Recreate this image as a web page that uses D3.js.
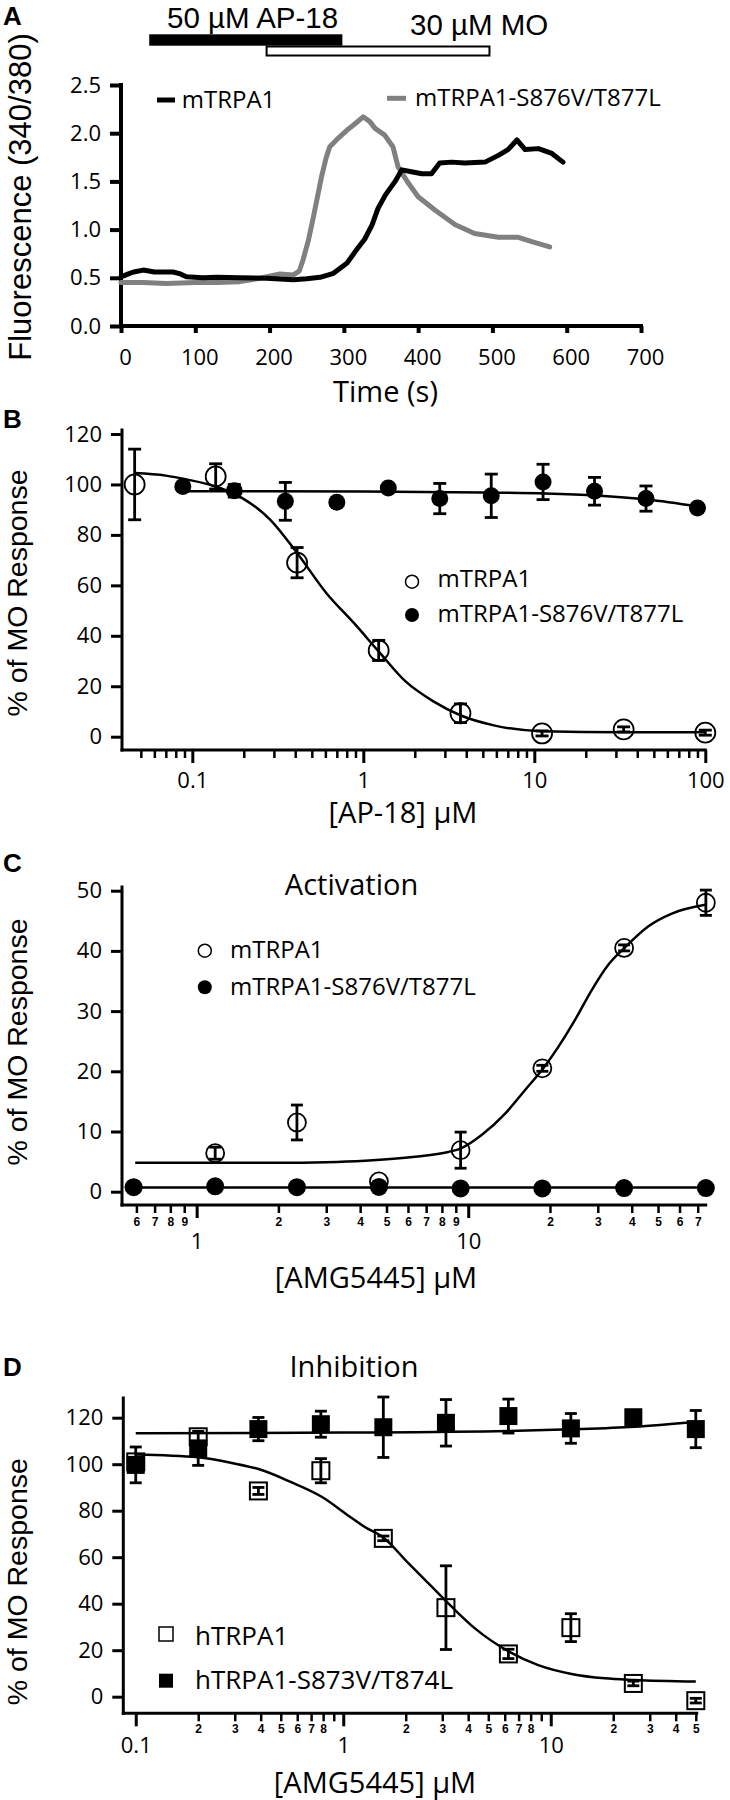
<!DOCTYPE html>
<html lang="en">
<head>
<meta charset="utf-8">
<title>TRPA1 responses to AP-18 and AMG5445</title>
<script src="https://cdn.jsdelivr.net/npm/d3@7"></script>
<style>
  body { margin:0; background:#fff; }
  svg { display:block; background:#fff; font-family:'Open Sans', sans-serif; }
</style>
</head>
<body>
<script>
// ---------- panel A : Fura-2 traces, [time s, ratio]
const traceWT = [[0,0.51],[10,0.54],[17,0.56],[30,0.58],[45,0.56],[70,0.56],[80,0.54],[88,0.51],[110,0.50],[129,0.505],
  [160,0.50],[196,0.495],[232,0.48],[250,0.49],[268,0.505],[286,0.547],[304,0.65],[317,0.79],[328,0.9],[338,1.05],
  [346,1.22],[356,1.36],[369,1.50],[378,1.62],[391,1.60],[405,1.58],[418,1.58],[429,1.69],[445,1.70],[463,1.69],
  [490,1.70],[508,1.77],[521,1.83],[533,1.93],[544,1.83],[562,1.84],[580,1.79],[595,1.70]];
const traceMut = [[0,0.45],[30,0.45],[61,0.44],[100,0.45],[129,0.45],[160,0.46],[187,0.495],[214,0.54],[232,0.53],
  [240,0.57],[245,0.685],[252,0.88],[259,1.13],[265,1.36],[270,1.55],[276,1.74],[281,1.86],[290,1.93],[304,2.03],
  [313,2.085],[326,2.17],[335,2.12],[342,2.05],[355,1.98],[366,1.86],[373,1.65],[387,1.48],[400,1.34],[423,1.20],
  [450,1.05],[476,0.96],[508,0.92],[535,0.92],[553,0.875],[577,0.82]];
const drugNames = ["50 µM AP-18", "30 µM MO"];
const drugStart = [38, 196];
const drugEnd = [298, 496];
const timeTicks = [0,100,200,300,400,500,600,700];
const ratioTicks = [0,0.5,1,1.5,2,2.5];

// ---------- panel B : AP-18 inhibition
const apConcWT = [0.046,0.137,0.41,1.23,3.7,11.1,33.3,100];
const apRespWT = [100,103.2,69,34.2,9.3,1.3,2.9,1.6];
const apErrWT  = [14,5,6,4,3.7,1,1,1];
const apConcMut = [0.088,0.176,0.35,0.7,1.4,2.8,5.6,11.25,22.5,45,90];
const apRespMut = [99.2,97.5,93.3,92.9,98.6,94.4,95.5,101,97.3,94.4,90.7];
const apErrMut  = [0,2.5,7.5,0,0,6,8.6,7,5.5,5,0];
const apFitWT = [[0.046,104.5],[0.07,103.5],[0.0925,102],[0.137,99.2],[0.196,94.6],[0.286,86],[0.41,72.8],
  [0.607,57],[0.883,45],[1.24,33.5],[1.76,22],[2.57,14],[3.69,8.5],[5.8,4.5],[11,2.2],[33,1.8],[100,1.8]];
const apFitMut = [[0.088,97.3],[1,97.2],[5,96.8],[11.5,96.4],[23,95.6],[45.8,94],[91,91.2]];
const apMajor = [0.1,1,10,100];
const apMajorLabels = ["0.1","1","10","100"];
const apMinor = [0.05,0.06,0.07,0.08,0.09,0.2,0.3,0.4,0.5,0.6,0.7,0.8,0.9,2,3,4,5,6,7,8,9,20,30,40,50,60,70,80,90];
const respTicksB = [0,20,40,60,80,100,120];

// ---------- panel C : AMG5445 activation
const amgConcWT = [1.17,2.34,4.69,9.375,18.75,37.5,75];
const amgRespWT = [6.4,11.5,1.7,6.9,20.5,40.5,48.0];
const amgErrWT  = [1,2.9,0,3,0.5,0.5,2.1];
const amgConcMut = [0.586,1.17,2.34,4.69,9.375,18.75,37.5,75];
const amgRespMut = [0.75,0.9,0.75,0.8,0.55,0.55,0.6,0.6];
const actFitWT = [[0.594,4.8],[1,4.8],[2,4.8],[3,4.9],[4.17,5.15],[6.37,5.8],[8.45,6.6],[9.41,7.2],[11.2,9.4],
  [13.7,13],[16.2,16.9],[18.9,20.5],[21.5,24.1],[24.7,28.5],[28.5,33.5],[32.8,37.7],[37.6,40.5],[46.1,44.1],
  [56.2,46.2],[75.5,47.7]];
const actFitMut = [[0.594,0.7],[75.5,0.7]];
const cMajor = [1,10];
const cMajorLabels = ["1","10"];
const cMinor = [0.6,0.7,0.8,0.9,2,3,4,5,6,7,8,9,20,30,40,50,60,70];
const cMinorLabels = ["6","7","8","9","2","3","4","5","6","7","8","9","2","3","4","5","6","7"];
const respTicksC = [0,10,20,30,40,50];

// ---------- panel D : AMG5445 inhibition
const inhConc = [0.1,0.2,0.39,0.78,1.56,3.125,6.25,12.5,25,50];
const inhRespWT = [101,111.8,88.5,97.2,68.1,38.3,18.4,29.7,5.7,-1.7];
const inhErrWT  = [0,0,1.5,5.2,1,18,2,6,1,1];
const inhRespMut = [99.7,106.8,115.1,117.2,115.9,117.8,120.7,115.4,120.2,115.1];
const inhErrMut  = [7.7,7.3,5,5.6,13,10,7.3,6.4,2,8];
const inhFitWT = [[0.1,104.2],[0.2,103],[0.295,100.4],[0.394,97.8],[0.554,92.5],[0.787,86],[1.077,77.4],[1.27,73],
  [1.56,68.5],[2.06,57.4],[2.67,47.3],[3.33,38.7],[4.31,29.4],[6.29,19.4],[8.7,13.6],[12.6,9.8],[18.2,7.9],
  [25.3,7.2],[50,6.5]];
const inhFitMut = [[0.1,113.3],[1,113.6],[6.29,114.3],[12.6,115],[25.3,116.1],[50,118.3]];
const dMajor = [0.1,1,10];
const dMajorLabels = ["0.1","1","10"];
const dMinor = [0.2,0.3,0.4,0.5,0.6,0.7,0.8,0.9,2,3,4,5,6,7,8,9,20,30,40,50];
const dMinorLabels = ["2","3","4","5","6","7","8","","2","3","4","5","6","7","8","","2","3","4","5"];
const respTicksD = [0,20,40,60,80,100,120];

const FONT = "'Open Sans', sans-serif";
const SANS = "'Liberation Sans', Arial, sans-serif";

const svg = d3.select("body").append("svg")
  .attr("width", 730)
  .attr("height", 1800);

function styleAxis(g, sw, size, family, weight) {
  g.select(".domain").remove();
  g.selectAll(".tick line").attr("stroke", "#000").attr("stroke-width", sw);
  g.selectAll(".tick text")
    .attr("fill", "#000")
    .attr("font-family", family || FONT)
    .attr("font-size", size)
    .attr("font-weight", weight || "normal");
}

function axisLines(x0, x1, yAxisTop, yLine, sw) {
  svg.append("line").attr("x1", x0).attr("x2", x1).attr("y1", yLine).attr("y2", yLine)
    .attr("stroke", "#000").attr("stroke-width", sw).attr("stroke-linecap", "square");
  svg.append("line").attr("x1", x0).attr("x2", x0).attr("y1", yLine).attr("y2", yAxisTop)
    .attr("stroke", "#000").attr("stroke-width", sw).attr("stroke-linecap", "square");
}

function text(str, x, y, size, opts) {
  opts = opts || {};
  const t = svg.append("text").text(str)
    .attr("x", x).attr("y", y)
    .attr("font-size", size)
    .attr("font-family", opts.family || FONT)
    .attr("font-weight", opts.weight || "normal")
    .attr("text-anchor", opts.anchor || "start")
    .attr("fill", "#000");
  if (opts.rotate) t.attr("transform", `rotate(-90,${x},${y})`);
  return t;
}

function errorBars(xs, ys, es, x, y, half, sw) {
  const g = svg.append("g").attr("stroke", "#000").attr("stroke-width", sw);
  xs.forEach((c, i) => {
    const e = es[i];
    if (!e) return;
    const cx = x(c), lo = y(ys[i] - e), hi = y(ys[i] + e);
    g.append("line").attr("x1", cx).attr("x2", cx).attr("y1", lo).attr("y2", hi);
    g.append("line").attr("x1", cx - half).attr("x2", cx + half).attr("y1", lo).attr("y2", lo);
    g.append("line").attr("x1", cx - half).attr("x2", cx + half).attr("y1", hi).attr("y2", hi);
  });
}

function fitLine(pts, x, y, sw) {
  svg.append("path")
    .attr("d", d3.line().x(d => x(d[0])).y(d => y(d[1])).curve(d3.curveMonotoneX)(pts))
    .attr("fill", "none").attr("stroke", "#000").attr("stroke-width", sw);
}

function logXAxis(x, yLine, major, majorLabels, majorPad, minor, minorLabels, minorPad) {
  const gMin = svg.append("g").attr("transform", `translate(0,${yLine})`)
    .call(d3.axisBottom(x).tickValues(minor).tickSize(8).tickPadding(minorPad)
      .tickFormat((d, i) => minorLabels ? minorLabels[i] : ""));
  styleAxis(gMin, 2.5, 12, SANS, "bold");
  const gMaj = svg.append("g").attr("transform", `translate(0,${yLine})`)
    .call(d3.axisBottom(x).tickValues(major).tickSize(13).tickPadding(majorPad)
      .tickFormat((d, i) => majorLabels[i]));
  styleAxis(gMaj, 3, 22);
}

function leftAxis(y, xPos, ticks, fmt, sw) {
  const g = svg.append("g").attr("transform", `translate(${xPos},0)`)
    .call(d3.axisLeft(y).tickValues(ticks).tickSize(11).tickPadding(9).tickFormat(fmt));
  styleAxis(g, sw, 22);
}

// ================= Panel A =================
const xA = d3.scaleLinear().domain([0, 700]).range([121, 641]);
const yA = d3.scaleLinear().domain([0, 2.5]).range([326, 85]);

text("A", 3, 25, 26, { weight: "bold", family: SANS });

// drug application bars
svg.append("rect")
  .attr("x", xA(drugStart[1])).attr("y", 46.5)
  .attr("width", xA(drugEnd[1]) - xA(drugStart[1])).attr("height", 9)
  .attr("fill", "#fff").attr("stroke", "#000").attr("stroke-width", 2);
svg.append("rect")
  .attr("x", xA(drugStart[0])).attr("y", 34.3)
  .attr("width", xA(drugEnd[0]) - xA(drugStart[0])).attr("height", 11.4)
  .attr("fill", "#000");
text(drugNames[0], 167, 27.5, 29.5, { family: SANS });
text(drugNames[1], 410, 35, 29.5, { family: SANS });

axisLines(xA(0), xA(700), yA(2.5), yA(0), 4);
leftAxis(yA, xA(0), ratioTicks, d3.format(".1f"), 4);
const gAx = svg.append("g").attr("transform", `translate(0,${yA(0)})`)
  .call(d3.axisBottom(xA).tickValues(timeTicks).tickSize(7).tickPadding(16).tickFormat(d3.format("d")));
styleAxis(gAx, 4, 22);
gAx.selectAll(".tick text").attr("x", 4);

const traceLine = d3.line().x(d => xA(d[0])).y(d => yA(d[1]));
svg.append("path").attr("d", traceLine(traceMut))
  .attr("fill", "none").attr("stroke", "#808080").attr("stroke-width", 5)
  .attr("stroke-linejoin", "round").attr("stroke-linecap", "round");
svg.append("path").attr("d", traceLine(traceWT))
  .attr("fill", "none").attr("stroke", "#000").attr("stroke-width", 5)
  .attr("stroke-linejoin", "round").attr("stroke-linecap", "round");

svg.append("line").attr("x1", 157).attr("x2", 175).attr("y1", 100).attr("y2", 100)
  .attr("stroke", "#000").attr("stroke-width", 5);
text("mTRPA1", 181.7, 108.3, 24);
svg.append("line").attr("x1", 387).attr("x2", 406).attr("y1", 98.3).attr("y2", 98.3)
  .attr("stroke", "#808080").attr("stroke-width", 5);
text("mTRPA1-S876V/T877L", 415, 106, 24);

text("Time (s)", 385.5, 402, 29, { anchor: "middle" });
text("Fluorescence (340/380)", 30.5, 197, 31, { anchor: "middle", rotate: true, family: SANS });

// ================= Panel B =================
const xB = d3.scaleLog().domain([0.0388, 100]).range([122, 705.3]);
const yB = d3.scaleLinear().domain([0, 120]).range([736.7, 434]);

text("B", 3, 428, 26, { weight: "bold", family: SANS });
axisLines(122, 705.3, 430, 750, 3);
leftAxis(yB, 122, respTicksB, d3.format("d"), 3);
logXAxis(xB, 750, apMajor, apMajorLabels, 9, apMinor, null, 4);

fitLine(apFitWT, xB, yB, 2.5);
fitLine(apFitMut, xB, yB, 2.5);
errorBars(apConcWT, apRespWT, apErrWT, xB, yB, 6.5, 2.8);
errorBars(apConcMut, apRespMut, apErrMut, xB, yB, 6.5, 2.8);
svg.append("g").selectAll("circle").data(apConcWT).join("circle")
  .attr("cx", d => xB(d)).attr("cy", (d, i) => yB(apRespWT[i])).attr("r", 10)
  .attr("fill", "none").attr("stroke", "#000").attr("stroke-width", 1.8);
svg.append("g").selectAll("circle").data(apConcMut).join("circle")
  .attr("cx", d => xB(d)).attr("cy", (d, i) => yB(apRespMut[i])).attr("r", 8.5)
  .attr("fill", "#000");

svg.append("circle").attr("cx", 412).attr("cy", 581.7).attr("r", 6.5)
  .attr("fill", "none").attr("stroke", "#000").attr("stroke-width", 1.5);
text("mTRPA1", 437.6, 586.7, 24);
svg.append("circle").attr("cx", 412).attr("cy", 615).attr("r", 7).attr("fill", "#000");
text("mTRPA1-S876V/T877L", 437.6, 621.7, 24);

text("[AP-18] µM", 403, 823, 29, { anchor: "middle" });
text("% of MO Response", 27, 593, 28.5, { anchor: "middle", rotate: true, family: SANS });

// ================= Panel C =================
const xC = d3.scaleLog().domain([0.531, 74.9]).range([122, 705.7]);
const yC = d3.scaleLinear().domain([0, 50]).range([1191.7, 890.7]);

text("C", 3, 872, 26, { weight: "bold", family: SANS });
text("Activation", 351.5, 895, 29, { anchor: "middle" });
axisLines(122, 705.7, 887, 1205, 3);
leftAxis(yC, 122, respTicksC, d3.format("d"), 3);
logXAxis(xC, 1205, cMajor, cMajorLabels, 15, cMinor, cMinorLabels, 4);

fitLine(actFitWT, xC, yC, 2.5);
fitLine(actFitMut, xC, yC, 2.5);
errorBars(amgConcWT, amgRespWT, amgErrWT, xC, yC, 6, 2.8);
svg.append("g").selectAll("circle").data(amgConcWT).join("circle")
  .attr("cx", d => xC(d)).attr("cy", (d, i) => yC(amgRespWT[i])).attr("r", 9)
  .attr("fill", "none").attr("stroke", "#000").attr("stroke-width", 1.8);
svg.append("g").selectAll("circle").data(amgConcMut).join("circle")
  .attr("cx", d => xC(d)).attr("cy", (d, i) => yC(amgRespMut[i])).attr("r", 9)
  .attr("fill", "#000");

svg.append("circle").attr("cx", 204.8).attr("cy", 950.7).attr("r", 6.5)
  .attr("fill", "none").attr("stroke", "#000").attr("stroke-width", 1.5);
text("mTRPA1", 230, 958, 24);
svg.append("circle").attr("cx", 204.8).attr("cy", 987.3).attr("r", 7).attr("fill", "#000");
text("mTRPA1-S876V/T877L", 230, 995, 24);

text("[AMG5445] µM", 376, 1288, 29, { anchor: "middle" });
text("% of MO Response", 27, 1042, 28.5, { anchor: "middle", rotate: true, family: SANS });

// ================= Panel D =================
const xD = d3.scaleLog().domain([0.0871, 50.5]).range([123.3, 696.7]);
const yD = d3.scaleLinear().domain([0, 120]).range([1696.7, 1417.7]);

text("D", 3, 1376, 26, { weight: "bold", family: SANS });
text("Inhibition", 354, 1376.7, 29, { anchor: "middle" });
axisLines(123.3, 696.7, 1398, 1713.3, 3);
leftAxis(yD, 123.3, respTicksD, d3.format("d"), 3);
logXAxis(xD, 1713.3, dMajor, dMajorLabels, 11, dMinor, dMinorLabels, 3);

fitLine(inhFitWT, xD, yD, 2.5);
fitLine(inhFitMut, xD, yD, 2.5);
errorBars(inhConc, inhRespWT, inhErrWT, xD, yD, 6, 2.8);
svg.append("g").selectAll("rect").data(inhConc).join("rect")
  .attr("x", d => xD(d) - 8.5).attr("y", (d, i) => yD(inhRespWT[i]) - 8.5)
  .attr("width", 17).attr("height", 17)
  .attr("fill", "none").attr("stroke", "#000").attr("stroke-width", 2);
errorBars(inhConc, inhRespMut, inhErrMut, xD, yD, 6, 2.8);
svg.append("g").selectAll("rect").data(inhConc).join("rect")
  .attr("x", d => xD(d) - 9).attr("y", (d, i) => yD(inhRespMut[i]) - 9)
  .attr("width", 18).attr("height", 18)
  .attr("fill", "#000");

svg.append("rect").attr("x", 159).attr("y", 1627).attr("width", 14).attr("height", 14)
  .attr("fill", "none").attr("stroke", "#000").attr("stroke-width", 1.5);
text("hTRPA1", 195, 1645, 26);
svg.append("rect").attr("x", 159).attr("y", 1673.7).attr("width", 14).attr("height", 14)
  .attr("fill", "#000");
text("hTRPA1-S873V/T874L", 195, 1689.3, 26);

text("[AMG5445] µM", 375, 1793, 29, { anchor: "middle" });
text("% of MO Response", 27, 1581.7, 28.5, { anchor: "middle", rotate: true, family: SANS });
</script>
</body>
</html>
